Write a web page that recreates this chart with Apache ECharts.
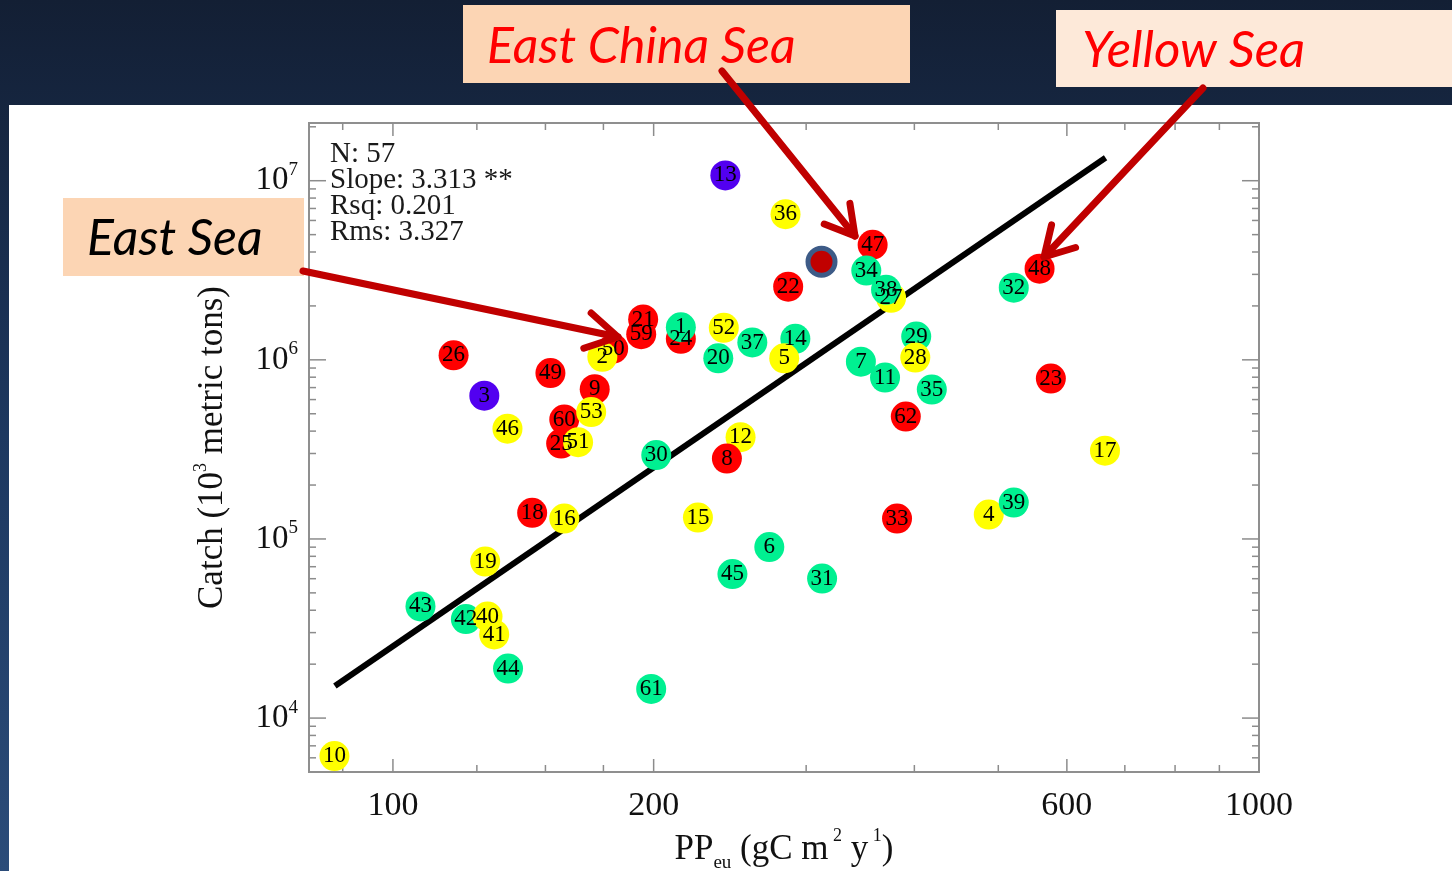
<!DOCTYPE html>
<html>
<head>
<meta charset="utf-8">
<script src="https://cdn.jsdelivr.net/npm/echarts@6/dist/echarts.min.js"></script>
<style>
html,body{margin:0;padding:0;width:1452px;height:871px;overflow:hidden;background:#15243d}
#c{width:1452px;height:871px}
</style>
</head>
<body>
<div id="c"></div>
<script>
// ---- data ----
const pointIds = ['13','36','47','34','22','27','38','48','32','21','59','24','1','52','37','14','20','5','50','2',
  '26','29','28','7','11','35','49','9','3','60','53','46','25','51','23','62','12','8','30','17',
  '18','16','15','33','4','39','6','19','45','31','43','42','40','41','44','61','10'];
const ppEu = [242,284,358,352,286,376,371,558,521,194.5,193.5,215,215,241,260,291.5,237.5,283,179.6,174.5,
  117.5,402,401,347,370,419,152,171,127.5,157.7,169.4,135.6,156.4,163.6,575,391,252,243,201.4,664,
  144.8,157.7,225,382,487.5,521,272,127.8,246.6,313,107.6,121.4,128.6,130.9,135.8,198.7,85.6];
const catchK = [1.07e7,6.5e6,4.39e6,3.15e6,2.56e6,2.22e6,2.46e6,3.23e6,2.53e6,1.68e6,1.39e6,1.31e6,1.52e6,1.51e6,1.25e6,1.31e6,1.02e6,1.02e6,1.155e6,1.04e6,
  1.06e6,1.35e6,1.03e6,9.77e5,7.96e5,6.82e5,8.43e5,6.86e5,6.31e5,4.64e5,5.11e5,4.13e5,3.41e5,3.47e5,7.86e5,4.82e5,3.70e5,2.81e5,2.94e5,3.11e5,
  1.40e5,1.30e5,1.316e5,1.30e5,1.368e5,1.596e5,9.01e4,7.48e4,6.37e4,6.01e4,4.20e4,3.57e4,3.69e4,2.93e4,1.89e4,1.454e4,6.14e3];
const seaGroup = ['B','Y','R','G','R','Y','G','R','G','R','R','R','G','Y','G','G','G','Y','R','Y',
  'R','G','Y','G','G','G','R','R','B','R','Y','Y','R','Y','R','R','Y','R','G','Y',
  'R','Y','Y','R','Y','G','G','Y','G','G','G','G','Y','Y','G','G','Y'];
const highlightPP = [312.5];
const highlightCatch = [3.53e6];
const regPP = [85.7, 665];
const regCatch = [1.51e4, 1.344e7];
const statLines = ['N: 57', 'Slope: 3.313 **', 'Rsq: 0.201', 'Rms: 3.327'];
const xMajorTicks = [100, 200, 600, 1000];
const xMinorTicks = [87.5, 125, 150, 175, 300, 400, 500, 700, 800, 900];
const xTickLabels = [100, 200, 600, 1000];
const yMajorTicks = [1e4, 1e5, 1e6, 1e7];
const yMinorTicks = [6e3,7e3,8e3,9e3, 2e4,3e4,4e4,5e4,6e4,7e4,8e4,9e4, 2e5,3e5,4e5,5e5,6e5,7e5,8e5,9e5,
  2e6,3e6,4e6,5e6,6e6,7e6,8e6,9e6, 2e7];

// ---- styling ----
const X_MIN = 80, X_MAX = 1000, Y_MIN = 5000, Y_MAX = 2.1e7;
const groupColor = {R:'#ff0000', Y:'#ffff00', G:'#00f091', B:'#5200f0'};
const TICK = '#8c8c8c';
const SERIF = '"Liberation Serif","Times New Roman",serif';

const scatterData = pointIds.map((id, i) => ({
  name: id, value: [ppEu[i], catchK[i]], itemStyle: {color: groupColor[seaGroup[i]], opacity: 1}
}));

function xTickItem(params, api) {
  const v = api.value(0), major = api.value(2);
  const b = api.coord([v, Y_MIN]), t = api.coord([v, Y_MAX]);
  const len = major ? 13 : 7;
  const st = {stroke: TICK, lineWidth: 1.5};
  return {type: 'group', children: [
    {type: 'line', shape: {x1: b[0], y1: b[1], x2: b[0], y2: b[1] - len}, style: st},
    {type: 'line', shape: {x1: t[0], y1: t[1], x2: t[0], y2: t[1] + len}, style: st}
  ]};
}
function yTickItem(params, api) {
  const v = api.value(1), major = api.value(2);
  const l = api.coord([X_MIN, v]), r = api.coord([X_MAX, v]);
  const len = major ? 17 : 7;
  const st = {stroke: TICK, lineWidth: 1.5};
  return {type: 'group', children: [
    {type: 'line', shape: {x1: l[0], y1: l[1], x2: l[0] + len, y2: l[1]}, style: st},
    {type: 'line', shape: {x1: r[0], y1: r[1], x2: r[0] - len, y2: r[1]}, style: st}
  ]};
}
function xLabelItem(params, api) {
  const v = api.value(0);
  const p = api.coord([v, Y_MIN]);
  return {type: 'text', x: p[0], y: p[1] + 34, style: {
    text: String(v), align: 'center', verticalAlign: 'middle',
    font: '34px ' + SERIF, fill: '#111'
  }};
}

function arrow(x1, y1, x2, y2, head) {
  const dx = x2 - x1, dy = y2 - y1, L = Math.hypot(dx, dy);
  const ux = -dx / L, uy = -dy / L, a = Math.PI / 6;
  const r1 = [x2 + head * (ux * Math.cos(a) - uy * Math.sin(a)), y2 + head * (ux * Math.sin(a) + uy * Math.cos(a))];
  const r2 = [x2 + head * (ux * Math.cos(a) + uy * Math.sin(a)), y2 + head * (-ux * Math.sin(a) + uy * Math.cos(a))];
  const st = {stroke: '#c00000', lineWidth: 7, lineCap: 'round', lineJoin: 'round'};
  return [
    {type: 'line', z: 120, shape: {x1, y1, x2, y2}, style: st},
    {type: 'polyline', z: 120, shape: {points: [r1, [x2, y2], r2]}, style: st}
  ];
}
const shadow = {shadowColor: 'rgba(0,0,0,0.55)', shadowBlur: 3, shadowOffsetX: 2, shadowOffsetY: 2};

const chart = echarts.init(document.getElementById('c'));
chart.setOption({
  animation: false,
  backgroundColor: {type: 'linear', x: 0, y: 0, x2: 0, y2: 1,
    colorStops: [{offset: 0, color: '#131f34'}, {offset: 0.5, color: '#1d3860'}, {offset: 1, color: '#2b4c79'}]},
  grid: {left: 309, top: 123, width: 950, height: 649, show: true, borderColor: '#8f8f8f', borderWidth: 2,
    backgroundColor: 'transparent', outerBoundsMode: 'none'},
  xAxis: {
    type: 'log', logBase: 10, min: X_MIN, max: X_MAX,
    axisLine: {show: false}, axisTick: {show: false}, axisLabel: {show: false}, splitLine: {show: false},
    name: '{n|PP}{sub|eu}{n| (gC m}{sup| 2}{n| y}{sup| 1}{n|)}',
    nameLocation: 'middle', nameGap: 55,
    nameTextStyle: {color: '#111', fontFamily: SERIF, rich: {
      n: {fontSize: 35, lineHeight: 46, fontFamily: SERIF, color: '#111'},
      sub: {fontSize: 19, lineHeight: 19, verticalAlign: 'bottom', fontFamily: SERIF, color: '#111'},
      sup: {fontSize: 18, lineHeight: 18, verticalAlign: 'top', fontFamily: SERIF, color: '#111'}
    }}
  },
  yAxis: {
    type: 'log', logBase: 10, min: Y_MIN, max: Y_MAX,
    axisLine: {show: false}, axisTick: {show: false}, splitLine: {show: false},
    axisLabel: {
      margin: 11, showMinLabel: false, showMaxLabel: false,
      formatter: v => '{b|10}{s|' + Math.round(Math.log10(v)) + '}',
      rich: {
        b: {fontSize: 33, lineHeight: 40, fontFamily: SERIF, color: '#111'},
        s: {fontSize: 19, lineHeight: 19, verticalAlign: 'top', fontFamily: SERIF, color: '#111'}
      }
    },
    name: '{n|Catch (10}{sup|3}{n| metric tons)}',
    nameLocation: 'middle', nameRotate: 90, nameGap: 75,
    nameTextStyle: {color: '#111', fontFamily: SERIF, rich: {
      n: {fontSize: 35, lineHeight: 42, fontFamily: SERIF, color: '#111'},
      sup: {fontSize: 18, lineHeight: 18, verticalAlign: 'top', fontFamily: SERIF, color: '#111'}
    }}
  },
  series: [
    {type: 'custom', name: 'xTicks', renderItem: xTickItem, silent: true, clip: false, z: 3,
      encode: {x: 0, y: 1},
      data: xMajorTicks.map(v => [v, Y_MIN, 1]).concat(xMinorTicks.map(v => [v, Y_MIN, 0]))},
    {type: 'custom', name: 'yTicks', renderItem: yTickItem, silent: true, clip: false, z: 3,
      encode: {x: 0, y: 1},
      data: yMajorTicks.map(v => [X_MIN, v, 1]).concat(yMinorTicks.map(v => [X_MIN, v, 0]))},
    {type: 'custom', name: 'xLabels', renderItem: xLabelItem, silent: true, clip: false, z: 3,
      encode: {x: 0, y: 1},
      data: xTickLabels.map(v => [v, Y_MIN])},
    {type: 'line', name: 'fit', data: regPP.map((x, i) => [x, regCatch[i]]), symbol: 'none', silent: true, z: 4,
      lineStyle: {color: '#000', width: 6}},
    {type: 'scatter', name: 'LME', data: scatterData, symbol: 'circle', symbolSize: 30, z: 5, silent: true,
      itemStyle: {opacity: 1},
      label: {show: true, position: 'inside', formatter: '{b}', fontSize: 23, fontFamily: SERIF,
        color: '#000', textBorderWidth: 0}},
    {type: 'scatter', name: 'highlight', data: highlightPP.map((x, i) => [x, highlightCatch[i]]),
      symbol: 'circle', symbolSize: 27, z: 6, silent: true,
      itemStyle: {color: '#c00000', borderColor: '#3d5b87', borderWidth: 5, opacity: 1}}
  ],
  graphic: [
    {type: 'rect', z: -10, shape: {x: 9, y: 105, width: 1443, height: 766}, style: {fill: '#ffffff'}},
    {type: 'text', z: 60, x: 330, y: 142, style: {text: statLines.join('\n'), font: '29px ' + SERIF,
      lineHeight: 25.7, fill: '#1a1a1a', align: 'left', verticalAlign: 'top'}},
    {type: 'rect', z: 100, shape: {x: 463, y: 5, width: 447, height: 78}, style: {fill: '#fcd5b4'}},
    {type: 'text', z: 101, x: 487, y: 47, style: Object.assign({text: 'East China Sea', font: 'italic 50px Lato',
      fill: '#ff0000', align: 'left', verticalAlign: 'middle'}, shadow)},
    {type: 'rect', z: 100, shape: {x: 1056, y: 10, width: 396, height: 77}, style: {fill: '#fde9d9'}},
    {type: 'text', z: 101, x: 1082, y: 51, style: Object.assign({text: 'Yellow Sea', font: 'italic 51px Lato',
      fill: '#ff0000', align: 'left', verticalAlign: 'middle'}, shadow)},
    {type: 'rect', z: 100, shape: {x: 63, y: 198, width: 241, height: 78}, style: {fill: '#fcd5b4'}},
    {type: 'text', z: 101, x: 87, y: 239, style: Object.assign({text: 'East Sea', font: 'italic 50px Lato',
      fill: '#000000', align: 'left', verticalAlign: 'middle'}, shadow)}
  ].concat(arrow(722, 71, 855, 236, 33), arrow(1203, 88, 1044, 257, 33), arrow(303, 271, 618, 337, 36))
});
</script>
</body>
</html>
